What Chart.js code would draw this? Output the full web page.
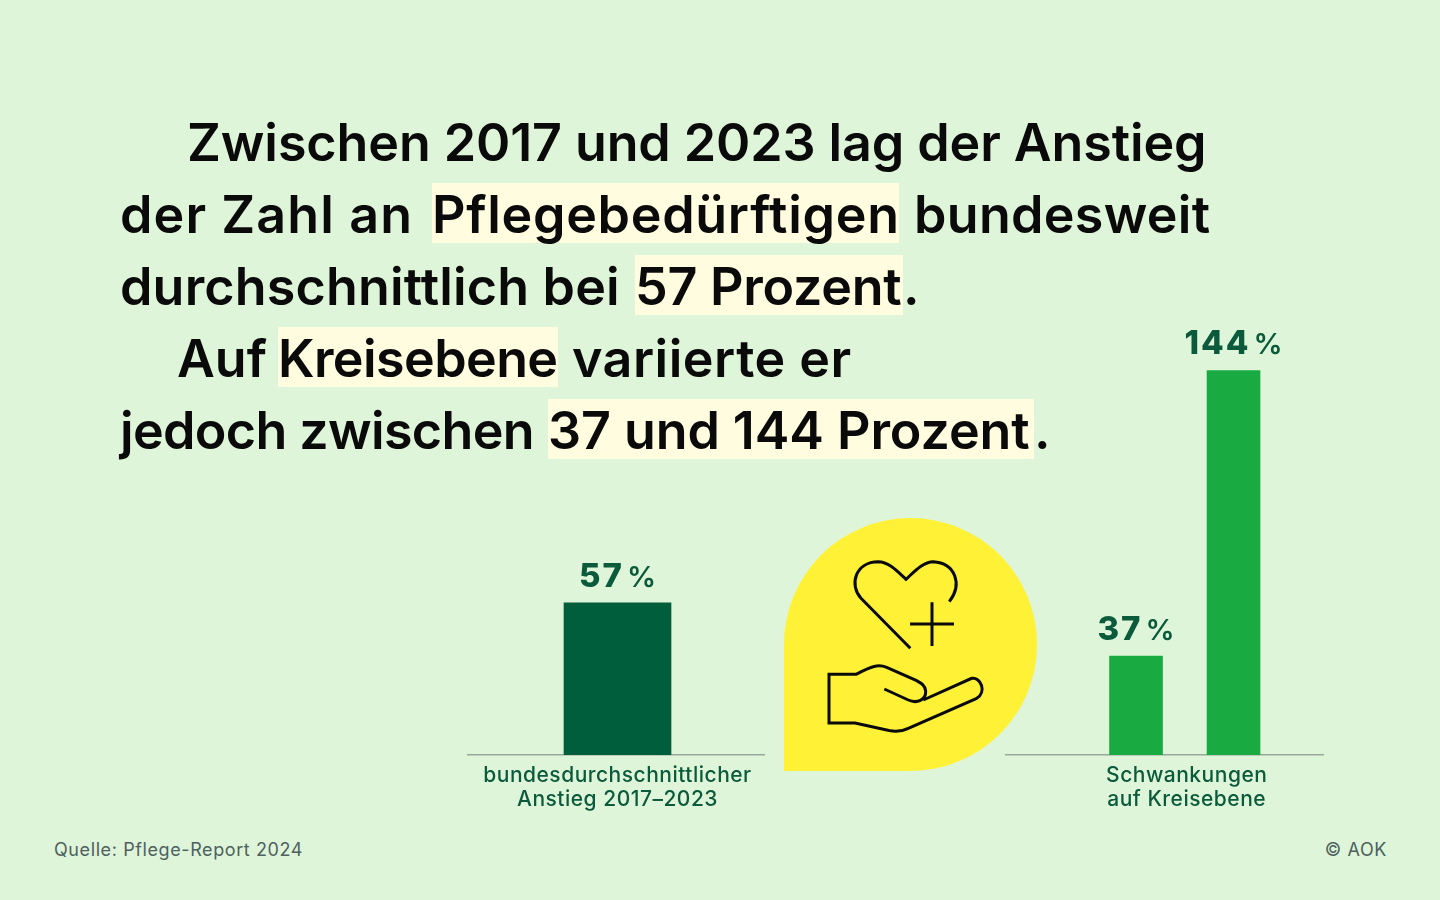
<!DOCTYPE html>
<html lang="de">
<head>
<meta charset="utf-8">
<script src="https://cdn.jsdelivr.net/npm/chart.js@4/dist/chart.umd.js"></script>
<style>
    html, body { margin: 0; padding: 0; }
    body { width: 1440px; height: 900px; background: #dff5d9; position: relative; overflow: hidden; font-family: "Inter", sans-serif; }
    .line { position: absolute; white-space: nowrap; font-size: 52px; font-weight: 600; line-height: 64px; height: 60px; color: #0a0a0a; }
    .line span { display: inline-block; height: 60px; }
    .line .mark { background: #fffcdf; }
    .foot { position: absolute; top: 838px; font-size: 18px; line-height: 24px; letter-spacing: 0.6px; color: #4d6160; white-space: nowrap; }
    canvas { position: absolute; }
    svg { position: absolute; left: 0; top: 0; }
</style>
</head>
<body>
<div class="line" style="left:187px;top:111px;letter-spacing:-0.1px">Zwischen 2017 und 2023 lag der Anstieg</div>
<div class="line" style="left:120px;top:183px"><span style="width:312px;letter-spacing:1.1px">der Zahl an</span><span class="mark" style="width:467px;letter-spacing:0.7px">Pflegebedürftigen</span><span style="margin-left:15px;letter-spacing:0.3px">bundesweit</span></div>
<div class="line" style="left:120px;top:255px"><span style="width:515px;letter-spacing:0.17px">durchschnittlich bei</span><span class="mark" style="width:268px;letter-spacing:-0.25px">57 Prozent</span>.</div>
<div class="line" style="left:177px;top:327px"><span style="width:101px">Auf</span><span class="mark" style="width:280px;letter-spacing:-0.6px">Kreisebene</span><span style="margin-left:14px;letter-spacing:0.5px">variierte er</span></div>
<div class="line" style="left:120px;top:399px"><span style="width:428px;letter-spacing:-0.65px">jedoch zwischen</span><span class="mark" style="width:486px;letter-spacing:-0.07px">37 und 144 Prozent</span>.</div>

<svg width="1440" height="900" viewBox="0 0 1440 900">
    <path d="M784 771V644.5A126.5 126.5 0 1 1 910.5 771Z" fill="#fff236"/>
    <g fill="none" stroke="#0a0a0a" stroke-width="3">
        <path d="M910.3 648.3L861 598.3C849 585 855 562 878.3 561.7C889 562 897 571 906 579.3C915 571 923 562 933.3 561.7C955 563 963 584 949.3 601.7"/>
        <path d="M910 624H954M932 602.3V646"/>
        <path d="M884.3 689L908.3 700C917 704 926 700 925.7 691C925 685 921 683 916.7 680.7L886.7 667.3C878 664 872 666 856 674.3H829V723H855L889 730.5C897 732 903 731 908.3 728.3L976.7 698.3C987 692 981 677 971.7 678.3L923.3 700"/>
    </g>
</svg>

<canvas id="national-chart" width="298" height="520" style="left:467px;top:300px"></canvas>
<canvas id="district-chart" width="319" height="520" style="left:1005px;top:300px"></canvas>

<div class="foot" style="left:54px">Quelle: Pflege-Report 2024</div>
<div class="foot" style="right:53px">© AOK</div>

<script>
const nationalValues = [57];
const nationalLabels = ["bundesdurchschnittlicher", "Anstieg 2017–2023"];
const districtValues = [37, 144];
const districtLabels = ["Schwankungen", "auf Kreisebene"];
const valueUnit = "%";

// number + smaller unit above each bar
const valueLabels = {
    id: "valueLabels",
    beforeDraw(chart) {
        chart.ctx.letterSpacing = "0.5px";
    },
    afterDatasetsDraw(chart) {
        let ctx = chart.ctx;
        let data = chart.data.datasets[0].data;
        chart.getDatasetMeta(0).data.forEach(function (bar, i) {
            let number = String(data[i].y);
            ctx.save();
            ctx.fillStyle = "#0b5a3c";
            ctx.textBaseline = "alphabetic";
            ctx.textAlign = "left";
            ctx.font = "800 33px Inter";
            ctx.letterSpacing = "2px";
            let numberWidth = ctx.measureText(number).width;
            ctx.font = "600 29px Inter";
            ctx.letterSpacing = "0px";
            let unitWidth = ctx.measureText(valueUnit).width;
            let left = bar.x - (numberWidth + 3 + unitWidth) / 2;
            ctx.fillText(valueUnit, left + numberWidth + 3, bar.y - 16);
            ctx.font = "800 33px Inter";
            ctx.letterSpacing = "2px";
            ctx.fillText(number, left, bar.y - 16);
            ctx.restore();
        });
    },
};

function barChart(id, values, labels, color, thickness, xMin, xMax, labelAt) {
    return new Chart(document.getElementById(id), {
        type: "bar",
        data: {
            datasets: [
                {
                    data: values.map(function (v, i) {
                        return { x: i + 1, y: v };
                    }),
                    backgroundColor: color,
                    barThickness: thickness,
                },
            ],
        },
        options: {
            responsive: false,
            animation: false,
            layout: { padding: 0 },
            plugins: { legend: false, tooltip: { enabled: false } },
            scales: {
                x: {
                    type: "linear",
                    offset: false,
                    min: xMin,
                    max: xMax,
                    afterBuildTicks: function (scale) {
                        scale.ticks = [{ value: labelAt }];
                    },
                    afterFit: function (scale) {
                        scale.height = 65;
                    },
                    grid: { display: false, drawTicks: false, offset: false },
                    border: { display: true, color: "#9aa89c", width: 1.5 },
                    ticks: {
                        callback: function () {
                            return labels;
                        },
                        maxRotation: 0,
                        autoSkip: false,
                        padding: 9,
                        color: "#0b5a3c",
                        font: { family: "Inter", size: 21, weight: "500", lineHeight: 1.143 },
                    },
                },
                y: { display: false, min: 0, max: 170.4 },
            },
        },
        plugins: [valueLabels],
    });
}

barChart("national-chart", nationalValues, nationalLabels, "#005e3d", 107, 0, 1.98, 1);
barChart("district-chart", districtValues, districtLabels, "#19aa42", 53, -0.344, 2.928, 1.52);
</script>
</body>
</html>
